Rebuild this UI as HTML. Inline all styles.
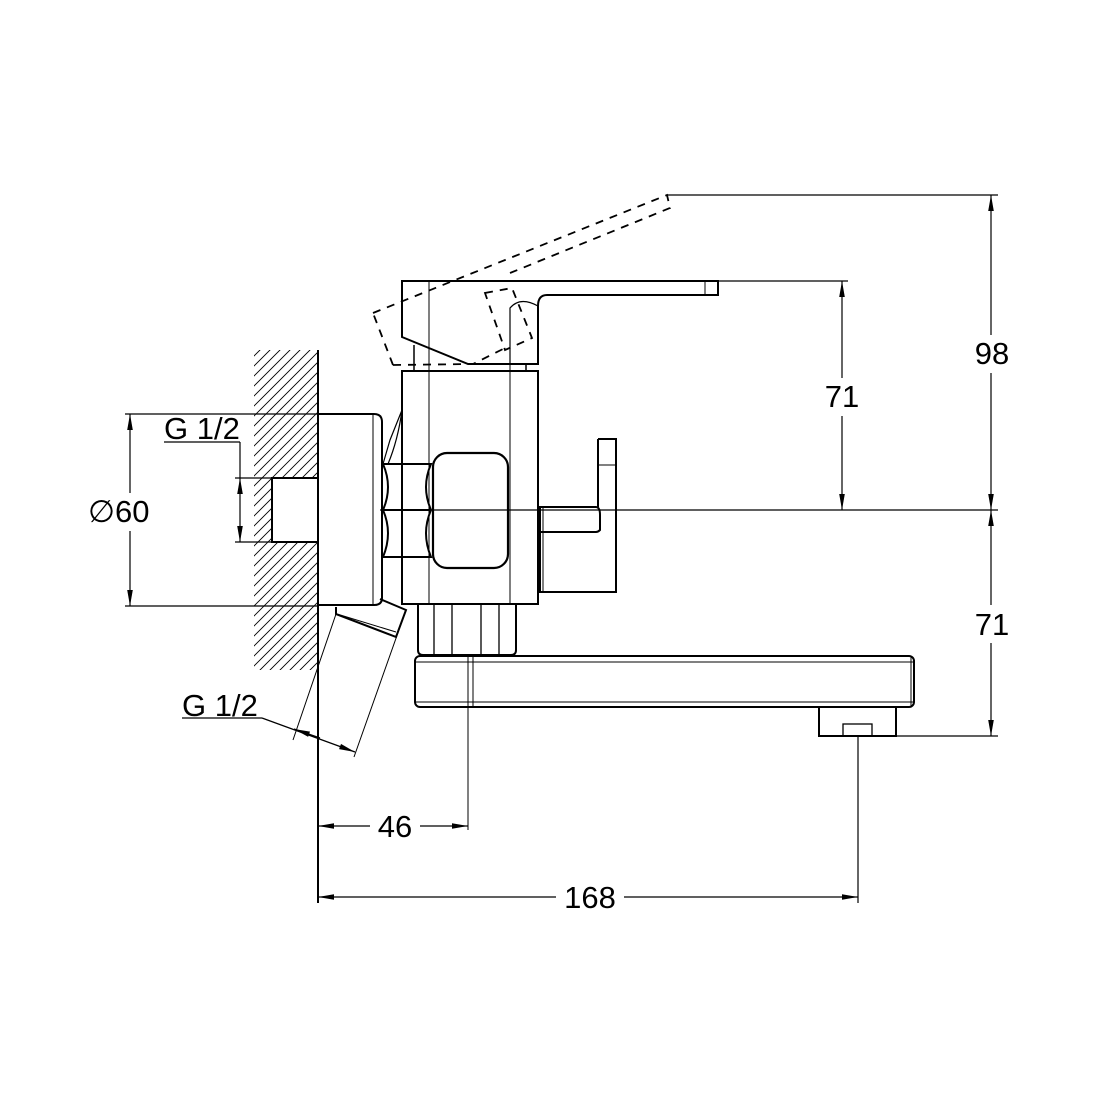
<!DOCTYPE html>
<html><head><style>html,body{margin:0;padding:0;background:#fff}svg{display:block}</style></head>
<body>
<svg width="1100" height="1100" viewBox="0 0 1100 1100" xmlns="http://www.w3.org/2000/svg" font-family="Liberation Sans, sans-serif">
<defs>
<clipPath id="hc"><rect x="254" y="350" width="64" height="320"/></clipPath>
<marker id="a" viewBox="0 0 16 10" refX="16" refY="5" markerWidth="16" markerHeight="10" markerUnits="userSpaceOnUse" orient="auto-start-reverse"><path d="M0,2.2 L16,5 L0,7.8z" fill="#000"/></marker>
</defs>
<rect width="1100" height="1100" fill="#fff"/>
<g clip-path="url(#hc)" stroke="#000" stroke-width="0.9">
<path d="M200,720 L400,520 M200,710 L400,510 M200,700 L400,500 M200,690 L400,490 M200,680 L400,480 M200,670 L400,470 M200,660 L400,460 M200,650 L400,450 M200,640 L400,440 M200,630 L400,430 M200,620 L400,420 M200,610 L400,410 M200,600 L400,400 M200,590 L400,390 M200,580 L400,380 M200,570 L400,370 M200,560 L400,360 M200,550 L400,350 M200,540 L400,340 M200,530 L400,330 M200,520 L400,320 M200,510 L400,310 M200,500 L400,300 M200,490 L400,290 M200,480 L400,280 M200,470 L400,270 M200,460 L400,260 M200,450 L400,250 M200,440 L400,240 M200,430 L400,230 M200,420 L400,220 M200,410 L400,210 M200,400 L400,200 M200,390 L400,190 M200,730 L400,530 M200,740 L400,540 M200,750 L400,550 M200,760 L400,560 M200,770 L400,570 M200,780 L400,580 M200,790 L400,590 M200,800 L400,600 M200,810 L400,610 M200,820 L400,620 M200,830 L400,630 M200,840 L400,640"/>
</g>
<rect x="272" y="478" width="46" height="64" fill="#fff" stroke="#000" stroke-width="2"/>
<g fill="none" stroke="#000">
<line x1="318" y1="350" x2="318" y2="903" stroke-width="2"/>
<path d="M318,414 L374,414 Q382,414 382,422 L382,598 Q382,605 374,605 L318,605" stroke-width="2"/>
<line x1="373" y1="414" x2="373" y2="605" stroke-width="1"/>
<rect x="402" y="371" width="136" height="233" stroke-width="2"/>
<line x1="429" y1="281" x2="429" y2="604" stroke-width="1"/>
<line x1="510" y1="308" x2="510" y2="604" stroke-width="1"/>
<path d="M402,410 L390,440 L383,464 M402,410 Q398,440 388,464" stroke-width="1.2"/>
<path d="M383,464 L431,464 Q421,487 431,510 Q421,533 431,557 L383,557 Q393,533 383,510 Q393,487 383,464 Z M383,510 L431,510" stroke-width="2"/>
<rect x="433" y="453" width="75" height="115" rx="14" stroke-width="2.2"/>
<path d="M402,281 L718,281 L718,295 L547,295 Q538,295 538,306 L538,364 L468,364 L402,337 Z" stroke-width="2"/>
<path d="M538,306 Q520,296 510,308 L510,364" stroke-width="1.2"/>
<line x1="705" y1="281" x2="705" y2="295" stroke-width="1"/>
<line x1="414" y1="345" x2="414" y2="371" stroke-width="1.5"/>
<line x1="526" y1="364" x2="526" y2="371" stroke-width="1.5"/>
<path d="M373,313 L667,195 L670,208 L510,273 M393,365 L373,313 M393,365 L473,364 L505,348" stroke-width="1.8" stroke-dasharray="8,7"/>
<path d="M485,293 L512,288 L532,338 L505,350 Z" stroke-width="1.8" stroke-dasharray="8,7"/>
<path d="M598,439 L616,439 L616,592 L540,592 L540,507 L596,507 Q600,507 600,515 L600,530 Q598,532 596,532 L540,532" stroke-width="2"/>
<line x1="598" y1="439" x2="598" y2="507" stroke-width="2"/>
<line x1="598" y1="465" x2="616" y2="465" stroke-width="1"/>
<line x1="543" y1="507" x2="543" y2="592" stroke-width="1"/>
<path d="M418,604 L418,650 Q418,655 423,655 L511,655 Q516,655 516,650 L516,604" stroke-width="2"/>
<path d="M434,604 L434,655 M452,604 L452,655 M481,604 L481,655 M499,604 L499,655" stroke-width="1.3"/>
<rect x="415" y="656" width="499" height="51" rx="5" stroke-width="2"/>
<path d="M415,662 L914,662 M415,702 L914,702 M911,656 L911,707" stroke-width="1"/>
<path d="M468,656 L468,830 M473,656 L473,707" stroke-width="1"/>
<path d="M819,707 L819,736 L896,736 L896,707" stroke-width="2"/>
<rect x="843" y="724" width="29" height="12" stroke-width="1.3"/>
<path d="M336,607 L336,614 L396,637 L406,610 L380,599" stroke-width="2"/>
<path d="M337,614 L396,632" stroke-width="1"/>
<path d="M336,614 L293,740 M406,610 L354,757" stroke-width="1"/>
<g stroke-width="1.2">
<line x1="667" y1="195" x2="998" y2="195"/>
<line x1="718" y1="281" x2="848" y2="281"/>
<line x1="380" y1="510" x2="998" y2="510"/>
<line x1="896" y1="736" x2="998" y2="736"/>
<line x1="125" y1="414" x2="318" y2="414"/>
<line x1="125" y1="606" x2="318" y2="606"/>
<line x1="235" y1="478" x2="272" y2="478"/>
<line x1="235" y1="542" x2="272" y2="542"/>
<line x1="858" y1="736" x2="858" y2="903"/>
<line x1="164" y1="442" x2="240" y2="442"/>
<line x1="240" y1="442" x2="240" y2="478"/>
<line x1="182" y1="718" x2="262" y2="718"/>
</g>
<g stroke-width="1.2" marker-start="url(#a)" marker-end="url(#a)">
<line x1="991" y1="195" x2="991" y2="510"/>
<line x1="991" y1="510" x2="991" y2="736"/>
<line x1="842" y1="281" x2="842" y2="510"/>
<line x1="130" y1="414" x2="130" y2="606"/>
<line x1="240" y1="478" x2="240" y2="542"/>
<line x1="318" y1="826" x2="468" y2="826"/>
<line x1="318" y1="897" x2="858" y2="897"/>
</g>
<line x1="262" y1="718" x2="355" y2="752" stroke-width="1.2" marker-end="url(#a)"/>
<line x1="320" y1="738" x2="294" y2="729" stroke-width="1.2" marker-end="url(#a)"/>
</g>
<g font-size="31" fill="#000">
<rect x="970" y="335" width="44" height="38" fill="#fff"/><text x="992" y="364" text-anchor="middle">98</text>
<rect x="970" y="605" width="44" height="38" fill="#fff"/><text x="992" y="635" text-anchor="middle">71</text>
<rect x="820" y="378" width="44" height="38" fill="#fff"/><text x="842" y="407" text-anchor="middle">71</text>
<rect x="88" y="493" width="64" height="38" fill="#fff"/><text x="88" y="522">∅60</text>
<text x="164" y="439">G 1/2</text>
<text x="182" y="716">G 1/2</text>
<rect x="370" y="808" width="50" height="34" fill="#fff"/><text x="395" y="837" text-anchor="middle">46</text>
<rect x="556" y="879" width="68" height="34" fill="#fff"/><text x="590" y="908" text-anchor="middle">168</text>
</g>
</svg>
</body></html>
